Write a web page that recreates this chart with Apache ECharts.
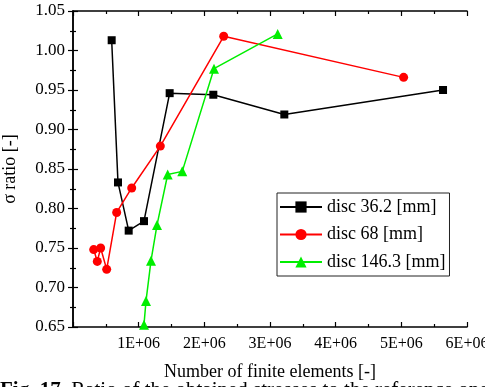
<!DOCTYPE html>
<html><head><meta charset="utf-8">
<script src="https://cdn.jsdelivr.net/npm/echarts@6/dist/echarts.min.js"></script>
<style>html,body{margin:0;padding:0;background:#fff;}#c{width:485px;height:387px;}</style>
</head><body><div id="c"></div>
<script>
const seriesNames = ['disc 36.2 [mm]', 'disc 68 [mm]', 'disc 146.3 [mm]'];
const disc36x = [0.589e6, 0.685e6, 0.848e6, 1.081e6, 1.472e6, 2.137e6, 3.218e6, 5.635e6];
const disc36y = [1.013, 0.833, 0.772, 0.784, 0.946, 0.944, 0.919, 0.950];
const disc68x = [0.315e6, 0.370e6, 0.421e6, 0.513e6, 0.665e6, 0.894e6, 1.330e6, 2.295e6, 5.035e6];
const disc68y = [0.748, 0.733, 0.750, 0.723, 0.795, 0.826, 0.879, 1.018, 0.966];
const disc146x = [1.081e6, 1.112e6, 1.188e6, 1.279e6, 1.442e6, 1.664e6, 2.147e6, 3.117e6];
const disc146y = [0.653, 0.683, 0.734, 0.779, 0.843, 0.847, 0.977, 1.021];
const xTicks = ['', '1E+06', '2E+06', '3E+06', '4E+06', '5E+06', '6E+06'];

const pair = (xs, ys) => xs.map((x, i) => [x, ys[i]]);
const F = 'Liberation Serif, Times New Roman, serif';
const chart = echarts.init(document.getElementById('c'));
const axisLine = {show: true, lineStyle: {color: '#000', width: 1.5}};
const tickIn = {show: true, inside: true, length: 5, lineStyle: {color: '#000', width: 1.2}};
const minorIn = {show: true, splitNumber: 2, length: 3, lineStyle: {color: '#000', width: 1.2}};
chart.setOption({
  animation: false,
  grid: {left: 73, right: 18, top: 11, bottom: 60, containLabel: false, outerBoundsMode: 'none'},
  xAxis: [{
    type: 'value', min: 0, max: 6e6, interval: 1e6, position: 'bottom',
    axisLine, axisTick: tickIn, minorTick: minorIn, splitLine: {show: false},
    axisLabel: {fontFamily: F, fontSize: 16, color: '#000', margin: 9, hideOverlap: false,
      formatter: v => xTicks[Math.round(v / 1e6)] || ''},
    name: 'Number of finite elements [-]', nameLocation: 'middle', nameGap: 36,
    nameTextStyle: {fontFamily: F, fontSize: 18, color: '#000'}
  }, {
    type: 'value', min: 0, max: 6e6, interval: 1e6, position: 'top',
    axisLine, axisTick: tickIn, minorTick: minorIn, splitLine: {show: false},
    axisLabel: {show: false}
  }],
  yAxis: [{
    type: 'value', min: 0.65, max: 1.05, interval: 0.05, position: 'left',
    axisLine, axisTick: tickIn, minorTick: minorIn, splitLine: {show: false},
    axisLabel: {fontFamily: F, fontSize: 17, color: '#000', margin: 8, formatter: v => v.toFixed(2)},
    name: 'σ ratio [-]', nameLocation: 'middle', nameGap: 54, nameRotate: 90,
    nameTextStyle: {fontFamily: F, fontSize: 18, color: '#000'}
  }, {
    type: 'value', min: 0.65, max: 1.05, interval: 0.05, position: 'right',
    axisLine, axisTick: tickIn, minorTick: minorIn, splitLine: {show: false},
    axisLabel: {show: false}
  }],
  legend: {
    orient: 'vertical', left: 277, top: 193, padding: [5, 4, 5, 2],
    itemWidth: 42, itemHeight: 14, itemGap: 9.5,
    borderColor: '#222', borderWidth: 1, backgroundColor: '#fff',
    textStyle: {fontFamily: F, fontSize: 18, color: '#000'},
    data: seriesNames
  },
  series: [
    {name: seriesNames[0], type: 'line', data: pair(disc36x, disc36y), symbol: 'rect', symbolSize: 8,
      itemStyle: {color: '#000'}, lineStyle: {color: '#000', width: 1.5}},
    {name: seriesNames[1], type: 'line', data: pair(disc68x, disc68y), symbol: 'circle', symbolSize: 9,
      itemStyle: {color: '#ff0000'}, lineStyle: {color: '#ff0000', width: 1.5}},
    {name: seriesNames[2], type: 'line', data: pair(disc146x, disc146y), symbol: 'triangle', symbolSize: 10,
      itemStyle: {color: '#00ee00'}, lineStyle: {color: '#00ee00', width: 1.5}}
  ],
  graphic: [{
    type: 'text', left: 0, top: 380,
    style: {
      text: '{b|Fig. 17.} Ratio of the obtained stresses to the reference one for',
      rich: {b: {fontFamily: F, fontSize: 21, fontWeight: 'bold', fill: '#000'}},
      fontFamily: F, fontSize: 21, fill: '#000'
    }
  }]
});
</script></body></html>
